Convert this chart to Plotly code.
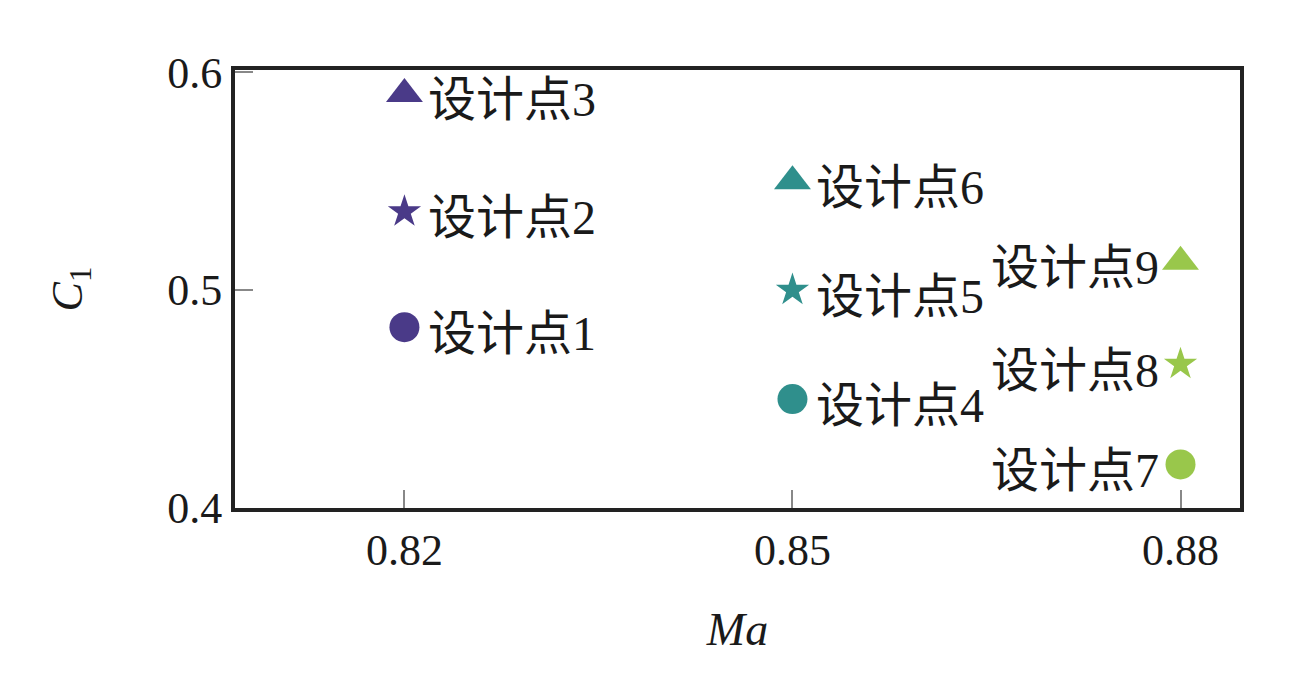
import plotly.graph_objects as go

# Data
labels = ["设计点1", "设计点2", "设计点3", "设计点4", "设计点5", "设计点6", "设计点7", "设计点8", "设计点9"]
ma = [0.82, 0.82, 0.82, 0.85, 0.85, 0.85, 0.88, 0.88, 0.88]
cl = [0.483, 0.536, 0.590, 0.450, 0.500, 0.550, 0.420, 0.466, 0.513]
symbols = ["circle", "star", "triangle-up"] * 3
colors = ["#4A3A88"] * 3 + ["#2F8F8C"] * 3 + ["#99C74B"] * 3
sizes = [30, 25, 32] * 3
label_side = ["right"] * 6 + ["left"] * 3

x_ticks = [0.82, 0.85, 0.88]
y_ticks = [0.4, 0.5, 0.6]

serif = "Liberation Serif, Times New Roman, Noto Sans CJK SC, serif"

fig = go.Figure()
fig.add_trace(go.Scatter(
    x=ma, y=cl, mode="markers",
    marker=dict(symbol=symbols, color=colors, size=sizes, opacity=1, line=dict(width=0)),
    showlegend=False, hoverinfo="skip",
))

for xv, yv, t, side in zip(ma, cl, labels, label_side):
    fig.add_annotation(
        x=xv, y=yv, text=t, showarrow=False,
        xanchor="left" if side == "right" else "right",
        yanchor="middle",
        xshift=22 if side == "right" else -20,
        yshift=-6,
        font=dict(family=serif, size=48, color="#1a1a1a"),
    )

fig.update_xaxes(
    range=[0.8069, 0.8846], tickvals=x_ticks, ticktext=[f"{v:.2f}" for v in x_ticks],
    ticks="inside", ticklen=18, tickwidth=2, tickcolor="#888888",
    showline=True, linewidth=4, linecolor="#222222", mirror=True,
    showgrid=False, zeroline=False, automargin=False,
    tickfont=dict(family=serif, size=44, color="#1a1a1a"),
    title=dict(text="<i>Ma</i>", font=dict(family=serif, size=46, color="#1a1a1a"), standoff=40),
)
fig.update_yaxes(
    range=[0.4, 0.601], tickvals=y_ticks, ticktext=[f"{v:.1f}" for v in y_ticks],
    ticks="inside", ticklen=18, tickwidth=2, tickcolor="#888888",
    showline=True, linewidth=4, linecolor="#222222", mirror=True,
    showgrid=False, zeroline=False, automargin=False,
    tickfont=dict(family=serif, size=44, color="#1a1a1a"),
    title=dict(text="<i>C</i><sub>1</sub>", font=dict(family=serif, size=44, color="#1a1a1a"), standoff=72),
)

fig.update_layout(
    width=1303, height=689,
    margin=dict(l=227, r=71, t=62, b=189),
    plot_bgcolor="white", paper_bgcolor="white",
)

fig.write_html("out.html")
